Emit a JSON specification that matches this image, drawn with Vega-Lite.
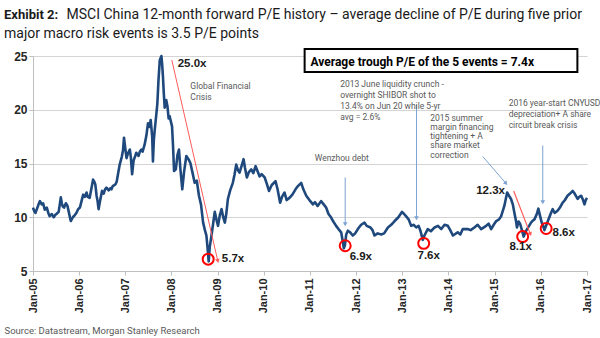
{
  "$schema": "https://vega.github.io/schema/vega-lite/v6.json",
  "width": 554,
  "height": 215,
  "autosize": {"type": "none"},
  "padding": {"left": 33, "top": 56, "right": 13, "bottom": 67},
  "background": "white",
  "title": {
    "text": "Exhibit 2:",
    "subtitle": ["\u200c\u00a0\u00a0\u00a0\u00a0\u00a0\u00a0\u00a0\u00a0\u00a0\u00a0\u00a0\u00a0\u00a0\u00a0\u00a0\u00a0\u00a0\u00a0MSCI China 12-month forward P/E history \u2013 average decline of P/E during five prior", "major macro risk events is 3.5 P/E points"],
    "anchor": "start",
    "frame": "group",
    "dx": -29,
    "dy": 8,
    "offset": 14,
    "font": "Roboto, sans-serif",
    "fontSize": 13,
    "fontWeight": "bold",
    "color": "#1a1a1a",
    "subtitleFont": "Roboto, sans-serif",
    "subtitleFontSize": 14,
    "subtitleColor": "#1a1a1a",
    "subtitleLineHeight": 19,
    "subtitlePadding": -14
  },
  "config": {
    "view": {"stroke": null},
    "axis": {"labelFont": "Liberation Sans, Arial, sans-serif"}
  },
  "datasets": {
    "pe": [
      {"date": "2005-01-01", "value": 10.9}, {"date": "2005-01-10", "value": 10.6}, {"date": "2005-01-20", "value": 10.4},
      {"date": "2005-02-02", "value": 10.8}, {"date": "2005-02-14", "value": 11.2}, {"date": "2005-02-25", "value": 11.5},
      {"date": "2005-03-11", "value": 11.2}, {"date": "2005-03-22", "value": 11.3}, {"date": "2005-04-04", "value": 10.7},
      {"date": "2005-04-20", "value": 10.9}, {"date": "2005-05-02", "value": 10.4}, {"date": "2005-05-13", "value": 10.1},
      {"date": "2005-05-29", "value": 10.3}, {"date": "2005-06-14", "value": 10.0}, {"date": "2005-06-25", "value": 10.2},
      {"date": "2005-07-05", "value": 10.3}, {"date": "2005-07-23", "value": 10.5}, {"date": "2005-08-01", "value": 11.2},
      {"date": "2005-08-09", "value": 11.85}, {"date": "2005-08-17", "value": 11.3}, {"date": "2005-08-25", "value": 11.0},
      {"date": "2005-09-04", "value": 10.9}, {"date": "2005-09-18", "value": 11.3}, {"date": "2005-10-01", "value": 11.05},
      {"date": "2005-10-11", "value": 10.5}, {"date": "2005-10-20", "value": 10.0}, {"date": "2005-10-27", "value": 9.65},
      {"date": "2005-11-12", "value": 10.0}, {"date": "2005-11-28", "value": 10.2}, {"date": "2005-12-10", "value": 10.4},
      {"date": "2005-12-24", "value": 10.75}, {"date": "2006-01-07", "value": 10.9}, {"date": "2006-01-20", "value": 11.5},
      {"date": "2006-02-02", "value": 12.1}, {"date": "2006-02-16", "value": 11.9}, {"date": "2006-03-01", "value": 12.3},
      {"date": "2006-03-10", "value": 11.9}, {"date": "2006-03-25", "value": 11.8}, {"date": "2006-04-10", "value": 12.8},
      {"date": "2006-04-21", "value": 13.5}, {"date": "2006-05-01", "value": 13.3}, {"date": "2006-05-09", "value": 13.05},
      {"date": "2006-05-19", "value": 12.0}, {"date": "2006-05-27", "value": 11.5}, {"date": "2006-06-04", "value": 10.75},
      {"date": "2006-06-12", "value": 11.3}, {"date": "2006-06-20", "value": 11.8}, {"date": "2006-07-01", "value": 12.45},
      {"date": "2006-07-14", "value": 12.2}, {"date": "2006-07-25", "value": 12.6}, {"date": "2006-08-05", "value": 12.75},
      {"date": "2006-08-23", "value": 12.5}, {"date": "2006-09-05", "value": 12.7}, {"date": "2006-09-14", "value": 12.6},
      {"date": "2006-09-24", "value": 12.9}, {"date": "2006-10-15", "value": 13.05}, {"date": "2006-10-25", "value": 13.3},
      {"date": "2006-11-03", "value": 13.9}, {"date": "2006-11-18", "value": 14.9}, {"date": "2006-12-04", "value": 15.6},
      {"date": "2006-12-14", "value": 16.2}, {"date": "2006-12-22", "value": 17.4}, {"date": "2007-01-01", "value": 16.4},
      {"date": "2007-01-11", "value": 15.5}, {"date": "2007-01-21", "value": 15.9}, {"date": "2007-02-06", "value": 16.3},
      {"date": "2007-02-14", "value": 15.6}, {"date": "2007-02-24", "value": 14.0}, {"date": "2007-03-08", "value": 15.3},
      {"date": "2007-03-18", "value": 15.6}, {"date": "2007-03-29", "value": 16.0}, {"date": "2007-04-16", "value": 15.7},
      {"date": "2007-04-26", "value": 16.1}, {"date": "2007-05-08", "value": 16.3}, {"date": "2007-05-18", "value": 16.1},
      {"date": "2007-06-03", "value": 16.75}, {"date": "2007-06-17", "value": 17.6}, {"date": "2007-06-30", "value": 18.75},
      {"date": "2007-07-13", "value": 18.4}, {"date": "2007-07-21", "value": 19.05}, {"date": "2007-08-02", "value": 17.5},
      {"date": "2007-08-08", "value": 15.2}, {"date": "2007-08-15", "value": 17.2}, {"date": "2007-08-22", "value": 18.1},
      {"date": "2007-09-03", "value": 19.5}, {"date": "2007-09-12", "value": 20.6}, {"date": "2007-09-21", "value": 22.8},
      {"date": "2007-10-01", "value": 24.6}, {"date": "2007-10-14", "value": 25.0}, {"date": "2007-10-20", "value": 24.2},
      {"date": "2007-10-26", "value": 23.1}, {"date": "2007-11-02", "value": 21.5}, {"date": "2007-11-09", "value": 20.2},
      {"date": "2007-11-21", "value": 20.9}, {"date": "2007-12-01", "value": 20.3}, {"date": "2007-12-10", "value": 19.2},
      {"date": "2007-12-18", "value": 19.4}, {"date": "2008-01-06", "value": 18.45}, {"date": "2008-01-14", "value": 16.6},
      {"date": "2008-01-22", "value": 14.3}, {"date": "2008-02-05", "value": 14.45}, {"date": "2008-02-18", "value": 15.8},
      {"date": "2008-03-01", "value": 16.3}, {"date": "2008-03-12", "value": 14.5}, {"date": "2008-03-27", "value": 12.6},
      {"date": "2008-04-10", "value": 14.2}, {"date": "2008-04-28", "value": 15.7}, {"date": "2008-05-15", "value": 15.4},
      {"date": "2008-05-30", "value": 15.05}, {"date": "2008-06-15", "value": 14.2}, {"date": "2008-07-03", "value": 13.2},
      {"date": "2008-07-20", "value": 13.4}, {"date": "2008-08-06", "value": 12.0}, {"date": "2008-08-22", "value": 11.2},
      {"date": "2008-09-08", "value": 9.5}, {"date": "2008-09-22", "value": 8.8}, {"date": "2008-10-04", "value": 8.3},
      {"date": "2008-10-14", "value": 7.0}, {"date": "2008-10-22", "value": 5.9}, {"date": "2008-10-30", "value": 7.2},
      {"date": "2008-11-13", "value": 8.3}, {"date": "2008-11-25", "value": 9.3}, {"date": "2008-12-09", "value": 10.5},
      {"date": "2008-12-22", "value": 9.8}, {"date": "2009-01-04", "value": 9.2}, {"date": "2009-01-18", "value": 10.2},
      {"date": "2009-02-01", "value": 10.75}, {"date": "2009-02-14", "value": 10.0}, {"date": "2009-02-27", "value": 9.5},
      {"date": "2009-03-10", "value": 10.3}, {"date": "2009-03-23", "value": 11.7}, {"date": "2009-04-10", "value": 12.5},
      {"date": "2009-05-01", "value": 13.2}, {"date": "2009-05-15", "value": 14.0}, {"date": "2009-05-28", "value": 14.9},
      {"date": "2009-06-10", "value": 14.4}, {"date": "2009-06-23", "value": 14.15}, {"date": "2009-07-10", "value": 14.8},
      {"date": "2009-07-25", "value": 15.4}, {"date": "2009-08-05", "value": 14.6}, {"date": "2009-08-20", "value": 13.7},
      {"date": "2009-09-05", "value": 14.2}, {"date": "2009-09-24", "value": 14.45}, {"date": "2009-10-10", "value": 14.1},
      {"date": "2009-10-28", "value": 14.75}, {"date": "2009-11-12", "value": 14.3}, {"date": "2009-11-29", "value": 13.8},
      {"date": "2009-12-15", "value": 14.0}, {"date": "2010-01-08", "value": 13.7}, {"date": "2010-01-25", "value": 13.1},
      {"date": "2010-02-11", "value": 12.45}, {"date": "2010-03-05", "value": 13.0}, {"date": "2010-04-04", "value": 13.35},
      {"date": "2010-04-20", "value": 12.6}, {"date": "2010-05-10", "value": 11.35}, {"date": "2010-05-25", "value": 11.9},
      {"date": "2010-06-14", "value": 12.3}, {"date": "2010-07-01", "value": 11.6}, {"date": "2010-07-23", "value": 11.8},
      {"date": "2010-08-15", "value": 12.1}, {"date": "2010-09-09", "value": 12.6}, {"date": "2010-09-28", "value": 12.9},
      {"date": "2010-10-24", "value": 13.2}, {"date": "2010-11-10", "value": 12.6}, {"date": "2010-12-03", "value": 12.0},
      {"date": "2010-12-28", "value": 11.6}, {"date": "2011-01-25", "value": 11.2}, {"date": "2011-02-10", "value": 11.4},
      {"date": "2011-03-03", "value": 11.05}, {"date": "2011-03-30", "value": 11.5}, {"date": "2011-04-20", "value": 11.2},
      {"date": "2011-05-09", "value": 10.9}, {"date": "2011-05-28", "value": 10.3}, {"date": "2011-06-18", "value": 9.97},
      {"date": "2011-07-05", "value": 9.6}, {"date": "2011-07-27", "value": 9.2}, {"date": "2011-08-15", "value": 8.9},
      {"date": "2011-09-05", "value": 8.6}, {"date": "2011-09-20", "value": 7.6}, {"date": "2011-09-26", "value": 7.1},
      {"date": "2011-10-05", "value": 7.4}, {"date": "2011-10-15", "value": 8.4}, {"date": "2011-10-28", "value": 8.75},
      {"date": "2011-11-15", "value": 8.6}, {"date": "2011-12-06", "value": 8.3}, {"date": "2011-12-25", "value": 8.5},
      {"date": "2012-01-15", "value": 8.9}, {"date": "2012-02-10", "value": 9.3}, {"date": "2012-03-08", "value": 9.5},
      {"date": "2012-03-25", "value": 9.2}, {"date": "2012-04-24", "value": 9.05}, {"date": "2012-05-10", "value": 8.8},
      {"date": "2012-05-26", "value": 8.3}, {"date": "2012-06-20", "value": 8.5}, {"date": "2012-07-18", "value": 8.4},
      {"date": "2012-08-10", "value": 8.5}, {"date": "2012-09-09", "value": 9.05}, {"date": "2012-10-05", "value": 9.3},
      {"date": "2012-11-01", "value": 9.65}, {"date": "2012-12-01", "value": 10.0}, {"date": "2012-12-29", "value": 10.5},
      {"date": "2013-01-15", "value": 10.3}, {"date": "2013-02-02", "value": 10.05}, {"date": "2013-02-20", "value": 9.8},
      {"date": "2013-03-12", "value": 9.2}, {"date": "2013-04-01", "value": 9.3}, {"date": "2013-04-21", "value": 9.05},
      {"date": "2013-05-10", "value": 9.2}, {"date": "2013-05-24", "value": 8.75}, {"date": "2013-06-12", "value": 7.9},
      {"date": "2013-06-25", "value": 8.3}, {"date": "2013-07-21", "value": 8.9}, {"date": "2013-08-15", "value": 8.7},
      {"date": "2013-09-13", "value": 9.05}, {"date": "2013-10-10", "value": 9.2}, {"date": "2013-11-05", "value": 8.9},
      {"date": "2013-12-01", "value": 9.3}, {"date": "2013-12-27", "value": 9.2}, {"date": "2014-01-15", "value": 8.8},
      {"date": "2014-02-05", "value": 8.3}, {"date": "2014-03-15", "value": 8.6}, {"date": "2014-04-05", "value": 8.4},
      {"date": "2014-04-24", "value": 8.9}, {"date": "2014-06-02", "value": 8.9}, {"date": "2014-06-25", "value": 8.8},
      {"date": "2014-07-25", "value": 9.05}, {"date": "2014-08-20", "value": 9.3}, {"date": "2014-09-17", "value": 8.9},
      {"date": "2014-10-26", "value": 9.2}, {"date": "2014-11-15", "value": 9.4}, {"date": "2014-12-05", "value": 8.9},
      {"date": "2014-12-25", "value": 9.3}, {"date": "2015-01-14", "value": 9.65}, {"date": "2015-02-05", "value": 9.8},
      {"date": "2015-02-22", "value": 10.1}, {"date": "2015-03-19", "value": 11.05}, {"date": "2015-04-10", "value": 12.3},
      {"date": "2015-04-25", "value": 12.0}, {"date": "2015-05-11", "value": 11.7}, {"date": "2015-05-25", "value": 11.2},
      {"date": "2015-06-06", "value": 10.45}, {"date": "2015-06-20", "value": 9.6}, {"date": "2015-06-27", "value": 9.05},
      {"date": "2015-07-10", "value": 9.6}, {"date": "2015-07-23", "value": 9.35}, {"date": "2015-08-05", "value": 8.8},
      {"date": "2015-08-19", "value": 8.2}, {"date": "2015-09-01", "value": 8.6}, {"date": "2015-09-15", "value": 8.9},
      {"date": "2015-10-01", "value": 9.2}, {"date": "2015-10-16", "value": 9.5}, {"date": "2015-11-01", "value": 9.7},
      {"date": "2015-11-12", "value": 9.8}, {"date": "2015-12-01", "value": 10.3}, {"date": "2015-12-13", "value": 10.8},
      {"date": "2015-12-25", "value": 10.2}, {"date": "2016-01-09", "value": 9.5}, {"date": "2016-01-20", "value": 9.2},
      {"date": "2016-01-30", "value": 8.8}, {"date": "2016-02-15", "value": 9.3}, {"date": "2016-03-09", "value": 10.0},
      {"date": "2016-03-22", "value": 10.4}, {"date": "2016-04-04", "value": 10.75}, {"date": "2016-04-20", "value": 10.4},
      {"date": "2016-05-13", "value": 10.6}, {"date": "2016-06-01", "value": 10.9}, {"date": "2016-06-22", "value": 11.35},
      {"date": "2016-07-10", "value": 11.6}, {"date": "2016-07-31", "value": 12.0}, {"date": "2016-08-20", "value": 12.2},
      {"date": "2016-09-10", "value": 12.45}, {"date": "2016-09-25", "value": 12.2}, {"date": "2016-10-19", "value": 11.7},
      {"date": "2016-11-01", "value": 11.9}, {"date": "2016-11-16", "value": 12.0}, {"date": "2016-12-01", "value": 11.6},
      {"date": "2016-12-12", "value": 11.2}, {"date": "2016-12-22", "value": 11.6}, {"date": "2017-01-01", "value": 11.8}
    ],
    "circles": [
      {"date": "2008-10-18", "value": 6.1},
      {"date": "2011-10-07", "value": 7.35},
      {"date": "2013-06-19", "value": 7.57},
      {"date": "2015-08-11", "value": 8.2},
      {"date": "2016-02-13", "value": 8.95}
    ],
    "vlabels": [
      {"date": "2008-02-20", "value": 24.26, "label": "25.0x"},
      {"date": "2009-02-03", "value": 6.1, "label": "5.7x"},
      {"date": "2011-11-11", "value": 6.27, "label": "6.9x"},
      {"date": "2013-05-01", "value": 6.42, "label": "7.6x"},
      {"date": "2015-04-28", "value": 7.19, "label": "8.1x"},
      {"date": "2016-04-03", "value": 8.58, "label": "8.6x"},
      {"date": "2014-08-08", "value": 12.44, "label": "12.3x"}
    ],
    "notes": [
      {"date": "2008-05-30", "value": 22.6, "text": "Global Financial\nCrisis"},
      {"date": "2011-02-08", "value": 15.88, "text": "Wenzhou debt"},
      {"date": "2011-08-28", "value": 22.73, "text": "2013 June liquidity crunch -\novernight SHIBOR shot to\n13.4% on Jun 20 while 5-yr\navg = 2.6%"},
      {"date": "2015-04-22", "value": 20.97, "text": "2016 year-start CNYUSD\ndepreciation+ A share\ncircuit break crisis"}
    ],
    "notes2015": [
      {"date": "2013-08-10", "value": 19.63, "text": "2015 summer\nmargin financing\ntightening + A\nshare market\ncorrection"}
    ],
    "blueV": [
      {"date": "2011-10-07", "value": 13.7, "date2": "2011-10-07", "value2": 9.35},
      {"date": "2013-04-23", "value": 20.46, "date2": "2013-04-23", "value2": 9.9},
      {"date": "2016-01-17", "value": 16.67, "date2": "2016-01-17", "value2": 11.39}
    ],
    "blueD": [
      {"date": "2014-09-29", "value": 15.65, "date2": "2015-04-01", "value2": 13.15}
    ],
    "redGFC": [
      {"date": "2008-01-04", "value": 24.63, "date2": "2009-01-02", "value2": 5.93}
    ],
    "red2015": [
      {"date": "2015-06-01", "value": 12.44, "date2": "2015-10-11", "value2": 8.43}
    ],
    "box": [
      {"date": "2010-11-20", "value": 25.65, "date2": "2016-10-17", "value2": 23.52, "label": "Average trough P/E of the 5 events = 7.4x", "tdate": "2011-01-05", "tvalue": 24.47}
    ]
  },
  "layer": [
    {
      "data": {"name": "pe"},
      "mark": {"type": "line", "color": "#1f497d", "strokeWidth": 2.6, "strokeJoin": "round"},
      "encoding": {
        "x": {
          "field": "date", "type": "temporal",
          "scale": {"type": "utc", "domain": [{"year": 2005, "month": 1, "date": 1, "utc": true}, {"year": 2017, "month": 1, "date": 1, "utc": true}]},
          "axis": {
            "values": [
              {"year": 2005, "month": 1, "date": 1, "utc": true}, {"year": 2006, "month": 1, "date": 1, "utc": true},
              {"year": 2007, "month": 1, "date": 1, "utc": true}, {"year": 2008, "month": 1, "date": 1, "utc": true},
              {"year": 2009, "month": 1, "date": 1, "utc": true}, {"year": 2010, "month": 1, "date": 1, "utc": true},
              {"year": 2011, "month": 1, "date": 1, "utc": true}, {"year": 2012, "month": 1, "date": 1, "utc": true},
              {"year": 2013, "month": 1, "date": 1, "utc": true}, {"year": 2014, "month": 1, "date": 1, "utc": true},
              {"year": 2015, "month": 1, "date": 1, "utc": true}, {"year": 2016, "month": 1, "date": 1, "utc": true},
              {"year": 2017, "month": 1, "date": 1, "utc": true}
            ],
            "format": "%b-%y",
            "labelAngle": -90,
            "labelFontSize": 11,
            "labelFontWeight": "bold",
            "labelColor": "#262626",
            "labelPadding": 3,
            "labelFlush": false,
            "labelOverlap": false,
            "tickSize": 4,
            "tickColor": "#bfbfbf",
            "domainColor": "#bfbfbf",
            "grid": false,
            "title": "Source: Datastream, Morgan Stanley Research",
            "titleX": -29,
            "titleY": 59,
            "titleAnchor": "start",
            "titleAlign": "left",
            "titleBaseline": "middle",
            "titleFont": "Roboto, sans-serif",
            "titleFontSize": 9.5,
            "titleFontWeight": "normal",
            "titleColor": "#595959"
          }
        },
        "y": {
          "field": "value", "type": "quantitative",
          "scale": {"domain": [5, 25], "nice": false, "zero": false},
          "axis": {
            "values": [5, 10, 15, 20, 25],
            "labelFontSize": 12,
            "labelFontWeight": "bold",
            "labelColor": "#262626",
            "labelPadding": 2,
            "tickSize": 4,
            "tickColor": "#bfbfbf",
            "domainColor": "#bfbfbf",
            "gridColor": "#d4d4d4",
            "title": null
          }
        }
      }
    },
    {
      "data": {"name": "redGFC"},
      "mark": {"type": "rule", "color": "#ff5b5b", "strokeWidth": 1},
      "encoding": {
        "x": {"field": "date", "type": "temporal"}, "y": {"field": "value", "type": "quantitative"},
        "x2": {"field": "date2"}, "y2": {"field": "value2"}
      }
    },
    {
      "data": {"name": "redGFC"},
      "mark": {"type": "point", "shape": "triangle-down", "filled": true, "size": 22, "color": "#ff5b5b", "angle": -13, "opacity": 1},
      "encoding": {"x": {"field": "date2", "type": "temporal"}, "y": {"field": "value2", "type": "quantitative"}}
    },
    {
      "data": {"name": "red2015"},
      "mark": {"type": "rule", "color": "#ff5b5b", "strokeWidth": 1.2},
      "encoding": {
        "x": {"field": "date", "type": "temporal"}, "y": {"field": "value", "type": "quantitative"},
        "x2": {"field": "date2"}, "y2": {"field": "value2"}
      }
    },
    {
      "data": {"name": "red2015"},
      "mark": {"type": "point", "shape": "triangle-down", "filled": true, "size": 22, "color": "#ff5b5b", "angle": -21, "opacity": 1},
      "encoding": {"x": {"field": "date2", "type": "temporal"}, "y": {"field": "value2", "type": "quantitative"}}
    },
    {
      "data": {"name": "blueV"},
      "mark": {"type": "rule", "color": "#7da3d3", "strokeWidth": 1},
      "encoding": {
        "x": {"field": "date", "type": "temporal"}, "y": {"field": "value", "type": "quantitative"},
        "x2": {"field": "date2"}, "y2": {"field": "value2"}
      }
    },
    {
      "data": {"name": "blueV"},
      "mark": {"type": "point", "shape": "triangle-down", "filled": true, "size": 22, "color": "#7da3d3", "opacity": 1},
      "encoding": {"x": {"field": "date2", "type": "temporal"}, "y": {"field": "value2", "type": "quantitative"}}
    },
    {
      "data": {"name": "blueD"},
      "mark": {"type": "rule", "color": "#7da3d3", "strokeWidth": 1},
      "encoding": {
        "x": {"field": "date", "type": "temporal"}, "y": {"field": "value", "type": "quantitative"},
        "x2": {"field": "date2"}, "y2": {"field": "value2"}
      }
    },
    {
      "data": {"name": "blueD"},
      "mark": {"type": "point", "shape": "triangle-down", "filled": true, "size": 22, "color": "#7da3d3", "angle": -41, "opacity": 1},
      "encoding": {"x": {"field": "date2", "type": "temporal"}, "y": {"field": "value2", "type": "quantitative"}}
    },
    {
      "data": {"name": "circles"},
      "mark": {"type": "point", "shape": "circle", "filled": false, "size": 120, "stroke": "#ff0000", "strokeWidth": 2, "opacity": 1},
      "encoding": {"x": {"field": "date", "type": "temporal"}, "y": {"field": "value", "type": "quantitative"}}
    },
    {
      "data": {"name": "vlabels"},
      "mark": {"type": "text", "align": "left", "baseline": "middle", "font": "Liberation Sans, Arial, sans-serif", "fontSize": 11.5, "fontWeight": "bold", "color": "#1a1a1a"},
      "encoding": {"x": {"field": "date", "type": "temporal"}, "y": {"field": "value", "type": "quantitative"}, "text": {"field": "label"}}
    },
    {
      "data": {"name": "notes"},
      "mark": {"type": "text", "align": "left", "baseline": "top", "lineBreak": "\n", "lineHeight": 11, "font": "Roboto, sans-serif", "fontSize": 8.5, "color": "#595959"},
      "encoding": {"x": {"field": "date", "type": "temporal"}, "y": {"field": "value", "type": "quantitative"}, "text": {"field": "text"}}
    },
    {
      "data": {"name": "notes2015"},
      "mark": {"type": "text", "align": "left", "baseline": "top", "lineBreak": "\n", "lineHeight": 9.2, "font": "Roboto, sans-serif", "fontSize": 8.5, "color": "#595959"},
      "encoding": {"x": {"field": "date", "type": "temporal"}, "y": {"field": "value", "type": "quantitative"}, "text": {"field": "text"}}
    },
    {
      "data": {"name": "box"},
      "mark": {"type": "rect", "fill": "white", "stroke": "#000000", "strokeWidth": 2, "clip": false},
      "encoding": {
        "x": {"field": "date", "type": "temporal"}, "y": {"field": "value", "type": "quantitative"},
        "x2": {"field": "date2"}, "y2": {"field": "value2"}
      }
    },
    {
      "data": {"name": "box"},
      "mark": {"type": "text", "align": "left", "baseline": "middle", "font": "Roboto, sans-serif", "fontSize": 12, "fontWeight": "bold", "color": "#000000", "clip": false},
      "encoding": {"x": {"field": "tdate", "type": "temporal"}, "y": {"field": "tvalue", "type": "quantitative"}, "text": {"field": "label"}}
    }
  ]
}
